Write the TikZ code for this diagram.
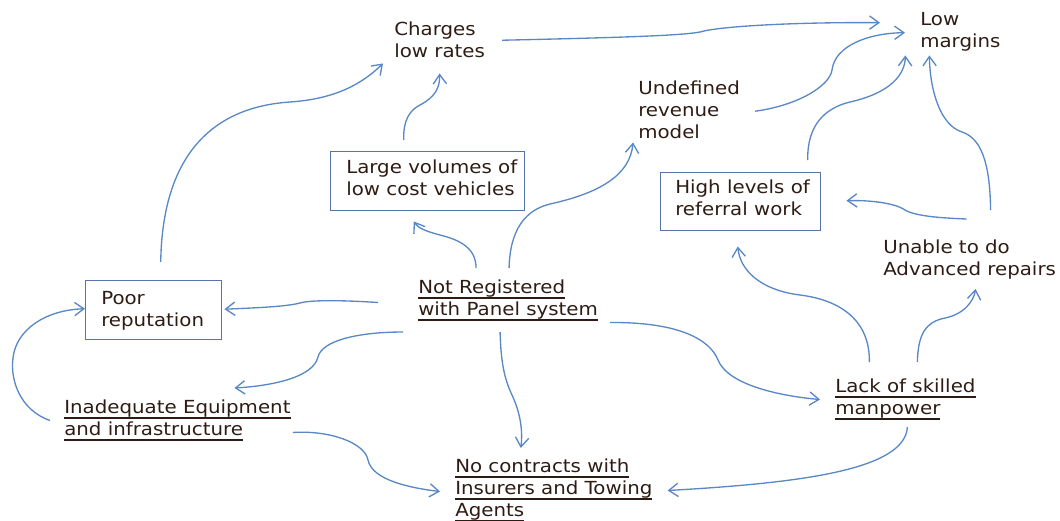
\documentclass[tikz,border=0pt]{standalone}
\usepackage{fontspec}
\setmainfont{DejaVu Sans}[FakeStretch=1.1]
\usetikzlibrary{arrows.meta}
\definecolor{txt}{HTML}{2E1C14}
\definecolor{link}{HTML}{5A88C6}
\definecolor{frame}{HTML}{5674AA}
% underline with a fixed offset below the baseline
\newcommand{\undl}[1]{\leavevmode\setbox0=\hbox{#1}\rlap{\color{txt}\rule[-3.6pt]{\wd0}{1pt}}\box0}
\begin{document}
\begin{tikzpicture}[x=0.75pt,y=-0.75pt,
  every node/.style={font=\fontsize{13.5pt}{16.5pt}\selectfont, text=txt},
  lbl/.style={inner sep=0pt, anchor=north west, align=left},
  framed/.style={draw=frame, line width=1.1pt, inner sep=0pt, anchor=north west},
  arr/.style={draw=link, line width=1pt, -{Straight Barb[length=7pt,width=10pt]}}]
\useasboundingbox (0,0) rectangle (1060,521);

% boxes
\node[framed, minimum width=145.5pt, minimum height=44.25pt] (largeBox) at (330,151) {};
\node[framed, minimum width=120pt, minimum height=43.5pt] (highBox) at (660,172) {};
\node[framed, minimum width=102pt, minimum height=44.25pt] (poorBox) at (85,280) {};

% labels
\node[lbl] (charges) at (394,22) {Charges\\low rates};
\node[lbl] (margins) at (920,12) {Low\\margins};
\node[lbl] (undef) at (638,81) {Undefined\\revenue\\model};
\node[lbl] (large) at (346,160) {Large volumes of\\low cost vehicles};
\node[lbl] (high) at (675,180) {High levels of\\referral work};
\node[lbl] (unable) at (883,240) {Unable to do\\Advanced repairs};
\node[lbl] (poor) at (101,291) {Poor\\reputation};
\node[lbl] (notreg) at (418,280) {\undl{Not Registered}\\\undl{with Panel system}};
\node[lbl] (inadeq) at (64,400) {\undl{Inadequate Equipment}\\\undl{and infrastructure}};
\node[lbl] (lack) at (835,379) {\undl{Lack of skilled}\\\undl{manpower}};
\node[lbl] (nocontr) at (455,459) {\undl{No contracts with}\\\undl{Insurers and Towing}\\\undl{Agents}};

% connectors
\draw[arr] ([shift={(7,-18)}]poorBox.north) .. controls (162,170) and (200,108) .. (290,102)
  .. controls (335,99) and (362,84) .. ([shift={(-11,5)}]charges.south west);
\draw[arr] ([shift={(-24,-11)}]largeBox.north) .. controls (403,120) and (410,110) .. (420,105)
  .. controls (435,97) and (440,88) .. ([shift={(0,15)}]charges.south);
\draw[arr] ([shift={(17,0)}]charges.east) .. controls (600,38) and (680,36) .. (700,32)
  .. controls (720,26) and (800,22) .. ([shift={(-40,-9)}]margins.west);
\draw[arr] ([shift={(15,1)}]undef.east) .. controls (800,105) and (830,85) .. (832,70)
  .. controls (835,45) and (870,33) .. ([shift={(-15,1)}]margins.west);
\draw[arr] ([shift={(67,-12)}]highBox.north) .. controls (807,125) and (825,108) .. (850,102)
  .. controls (890,93) and (905,75) .. ([shift={(-55,4)}]margins.south);
\draw[arr] ([shift={(21,-30)}]unable.north) .. controls (990,160) and (980,138) .. (962,132)
  .. controls (940,125) and (930,90) .. ([shift={(-31,4)}]margins.south);
\draw[arr] ([shift={(-3,-21)}]unable.north) .. controls (940,218) and (915,216) .. (905,210)
  .. controls (895,203) and (870,200) .. ([shift={(25,-1)}]highBox.east);
\draw[arr] ([shift={(-32,-12)}]notreg.north) .. controls (476,248) and (460,240) .. (440,235)
  .. controls (425,231) and (418,228) .. ([shift={(-14,10)}]largeBox.south);
\draw[arr] ([shift={(1,-12)}]notreg.north) .. controls (510,230) and (525,210) .. (550,204)
  .. controls (600,193) and (630,175) .. ([shift={(-56,3)}]undef.south);
\draw[arr] ([shift={(-40,2)}]notreg.west) .. controls (340,300) and (310,300) .. (300,303)
  .. controls (285,307) and (250,308) .. ([shift={(2,-1)}]poorBox.east);
\draw[arr] ([shift={(-15,11)}]notreg.south west) .. controls (360,332) and (322,340) .. (318,357)
  .. controls (313,378) and (270,386) .. ([shift={(57,-12)}]inadeq.north);
\draw[arr] ([shift={(-14,0)}]inadeq.west) .. controls (20,410) and (10,380) .. (13,358)
  .. controls (16,330) and (45,310) .. ([shift={(0,-1.5)}]poorBox.west);
\draw[arr] ([shift={(2,12)}]inadeq.east) .. controls (330,430) and (365,443) .. (368,460)
  .. controls (372,480) and (410,488) .. ([shift={(-15,1)}]nocontr.west);
\draw[arr] ([shift={(-8,11)}]notreg.south) .. controls (501,365) and (505,380) .. (512,395)
  .. controls (520,412) and (523,430) .. ([shift={(-33,-11)}]nocontr.north);
\draw[arr] ([shift={(12,22)}]notreg.east) .. controls (680,322) and (710,340) .. (718,360)
  .. controls (728,385) and (780,396) .. ([shift={(-15,0)}]lack.west);
\draw[arr] ([shift={(-36,-17)}]lack.north) .. controls (870,320) and (840,300) .. (800,295)
  .. controls (760,290) and (740,270) .. ([shift={(-3,15)}]highBox.south);
\draw[arr] ([shift={(12,-17)}]lack.north) .. controls (918,335) and (925,322) .. (945,318)
  .. controls (965,314) and (974,300) .. ([shift={(6,9)}]unable.south);
\draw[arr] ([shift={(2,7)}]lack.south) .. controls (905,470) and (800,483) .. ([shift={(15,0)}]nocontr.east);
\end{tikzpicture}
\end{document}
